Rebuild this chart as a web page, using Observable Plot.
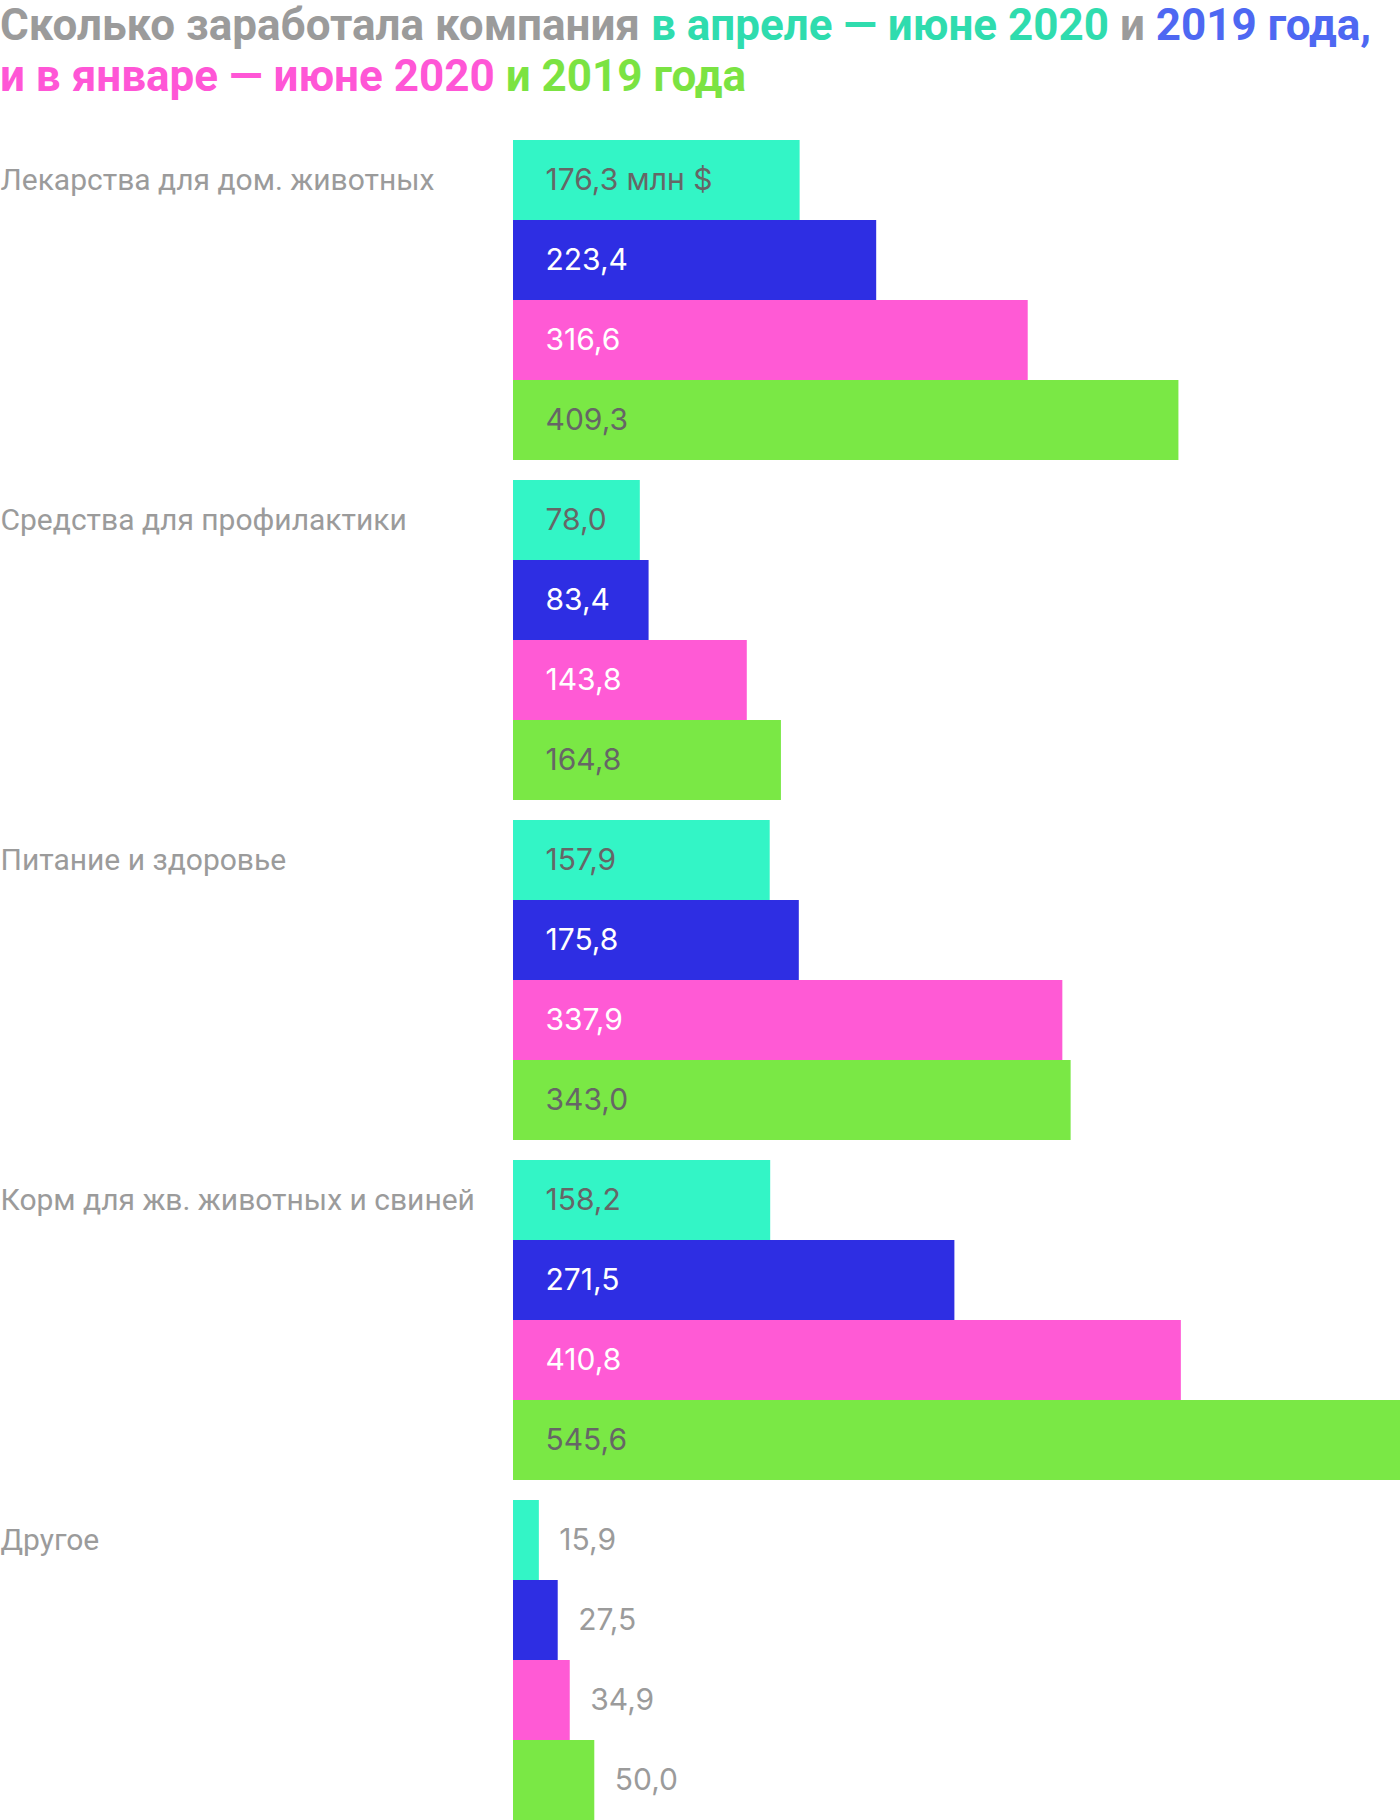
<!DOCTYPE html>
<html>
<head>
<meta charset="utf-8">
<script src="https://cdn.jsdelivr.net/npm/d3@7"></script>
<script src="https://cdn.jsdelivr.net/npm/@observablehq/plot@0.6"></script>
<style>
  html, body { margin: 0; padding: 0; background: #fff; }
  #title { font-family: Roboto, sans-serif; font-weight: 700; font-size: 44px; line-height: 51px; height: 120px; margin: 0; padding: 0; color: #9b9b9b; white-space: nowrap; }
  #title .t1 { color: #2fdcae; }
  #title .t2 { color: #4e68f2; }
  #title .t3 { color: #ff56d6; }
  #title .t4 { color: #7be342; }
  #chart svg { display: block; }
</style>
</head>
<body>
<div id="title"><div>Сколько заработала компания <span class="t1">в апреле — июне 2020</span> и <span class="t2">2019 года,</span></div><div><span class="t3">и в январе — июне 2020</span> <span class="t4">и 2019 года</span></div></div>
<div id="chart"></div>
<script>
const categories = ["Лекарства для дом. животных", "Средства для профилактики", "Питание и здоровье", "Корм для жв. животных и свиней", "Другое"];
const series = ["Апрель — июнь 2020", "Апрель — июнь 2019", "Январь — июнь 2020", "Январь — июнь 2019"];
const aprJun2020 = [176.3, 78.0, 157.9, 158.2, 15.9];
const aprJun2019 = [223.4, 83.4, 175.8, 271.5, 27.5];
const janJun2020 = [316.6, 143.8, 337.9, 410.8, 34.9];
const janJun2019 = [409.3, 164.8, 343.0, 545.6, 50.0];
const seriesColors = ["#33f5c6", "#2e2ee3", "#ff5ad5", "#7ae845"];
const labelColors = ["#666666", "#ffffff", "#ffffff", "#666666"];
const unitSuffix = " млн $";

const allValues = [aprJun2020, aprJun2019, janJun2020, janJun2019];
const data = [];
categories.forEach((c, ci) => {
  series.forEach((s, si) => {
    data.push({category: c, series: s, si, ci, value: allValues[si][ci]});
  });
});
const fmt = v => d3.format(".1f")(v).replace(".", ",");
const label = d => fmt(d.value) + (d.ci === 0 && d.si === 0 ? unitSuffix : "");
const inside = data.filter(d => d.value > 60);
const outside = data.filter(d => d.value <= 60);

const chart = Plot.plot({
  width: 1400,
  height: 1700,
  marginTop: 20,
  marginBottom: 0,
  marginLeft: 513,
  marginRight: 0,
  style: {fontFamily: "Roboto, sans-serif", background: "white"},
  x: {domain: [0, 545.6], axis: null},
  y: {domain: series, paddingInner: 0, paddingOuter: 0, axis: null},
  fy: {domain: categories, paddingInner: 20 / 340, paddingOuter: 0, axis: null},
  color: {domain: series, range: seriesColors},
  marks: [
    Plot.barX(data, {x: "value", y: "series", fy: "category", fill: "series", insetTop: 0, insetBottom: 0}),
    Plot.text(inside, {x: 0, y: "series", fy: "category", text: label, textAnchor: "start", dx: 32, fontSize: 30, fontFamily: "Inter, sans-serif", fill: d => labelColors[d.si]}),
    Plot.text(outside, {x: "value", y: "series", fy: "category", text: label, textAnchor: "start", dx: 20, fontSize: 30, fontFamily: "Inter, sans-serif", fill: "#9b9b9b"}),
    Plot.text(data.filter(d => d.si === 0), {frameAnchor: "left", y: "series", fy: "category", text: "category", textAnchor: "start", dx: -513, fontSize: 30, fill: "#9b9b9b"})
  ]
});
document.getElementById("chart").appendChild(chart);
</script>
</body>
</html>
